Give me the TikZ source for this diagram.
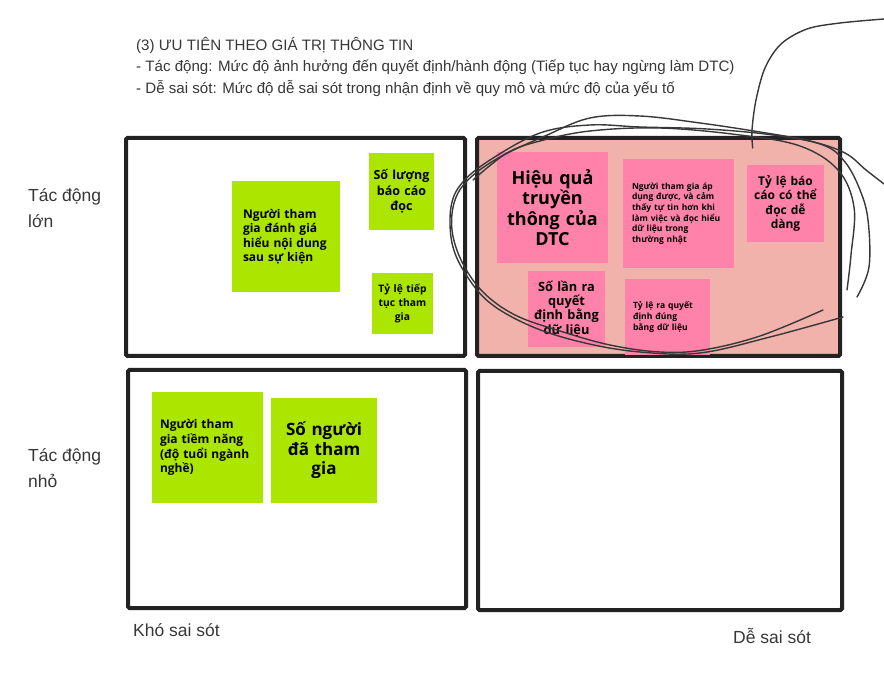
\documentclass[tikz,border=0pt]{standalone}
\usepackage{fontspec}
\setmainfont{Liberation Sans}
\newfontfamily\notefont{Open Sans}
\usetikzlibrary{positioning}
\definecolor{stickyg}{RGB}{172,230,0}
\definecolor{stickyp}{RGB}{255,130,170}
\definecolor{hotq}{RGB}{241,178,172}
\definecolor{frame}{RGB}{34,34,34}
\definecolor{ink}{RGB}{55,55,55}
\definecolor{pen}{RGB}{56,56,56}

\begin{document}
\begin{tikzpicture}[x=1pt, y=-1pt,
  quad/.style={draw=frame, line width=4pt, rounded corners=1.5pt, anchor=north west, outer sep=0pt, inner sep=0pt},
  note/.style={anchor=north west, outer sep=0pt, inner ysep=0pt},
  gnote/.style={note, fill=stickyg},
  pnote/.style={note, fill=stickyp},
  axis/.style={font=\fontsize{17.5}{26}\selectfont, text=ink, align=left, inner sep=0pt},
  scribble/.style={draw=pen, line width=1.4pt, line cap=round, line join=round}]
  \useasboundingbox[fill=white] (0,0) rectangle (884,676);
  % heading
  \node[anchor=north west, inner sep=0pt, align=left, text=ink, font=\fontsize{15.1}{21.5}\selectfont] (head) at (136,37)
    {(3) ƯU TIÊN THEO GIÁ TRỊ THÔNG TIN\\
     - Tác động: Mức độ ảnh hưởng đến quyết định/hành động (Tiếp tục hay ngừng làm DTC)\\
     - Dễ sai sót: Mức độ dễ sai sót trong nhận định về quy mô và mức độ của yếu tố};
  % quadrants
  \node[quad, minimum width=339pt, minimum height=218pt] (tl) at (126,138) {};
  \node[quad, fill=hotq, minimum width=363pt, minimum height=218pt] (tr) at (477,138) {};
  \node[quad, minimum width=338pt, minimum height=238pt] (bl) at (128,370) {};
  \node[quad, minimum width=364pt, minimum height=239pt] (br) at (478,371) {};
  % axis labels
  \node[axis, anchor=north west] (big) at (28,188) {Tác động\\lớn};
  \node[axis, anchor=north west] (small) at (28,448) {Tác động\\nhỏ};
  \node[axis, anchor=north west] (hard) at (133,623) {Khó sai sót};
  \node[axis, anchor=north west] (easy) at (733,628) {Dễ sai sót};
  % green notes
  \node[gnote, minimum width=108pt, minimum height=111pt, text width=86pt, inner xsep=11pt, align=left,
        font=\notefont\bfseries\fontsize{12}{14.5}\selectfont] (judge) at (232,181)
    {Người tham\\gia đánh giá\\hiểu nội dung\\sau sự kiện};
  \node[gnote, minimum width=65pt, minimum height=77pt, text width=61pt, inner xsep=2pt, align=center,
        font=\notefont\bfseries\fontsize{12.5}{15.5}\selectfont] (reads) at (369,153)
    {Số lượng\\báo cáo\\đọc};
  \node[gnote, minimum width=61pt, minimum height=61pt, text width=57pt, inner xsep=2pt, align=center,
        font=\notefont\bfseries\fontsize{10.3}{14}\selectfont] (stay) at (372,273)
    {Tỷ lệ tiếp\\tục tham\\gia};
  \node[gnote, minimum width=111pt, minimum height=111pt, text width=95pt, inner xsep=8pt, align=left,
        font=\notefont\bfseries\fontsize{12}{14.7}\selectfont] (leads) at (152,392)
    {Người tham\\gia tiềm năng\\(độ tuổi ngành\\nghề)};
  \node[gnote, minimum width=106pt, minimum height=105pt, text width=100pt, inner xsep=3pt, align=center,
        font=\notefont\bfseries\fontsize{17}{19.5}\selectfont] (joined) at (271,398)
    {Số người\\đã tham\\gia};
  % pink notes
  \node[pnote, minimum width=111pt, minimum height=111pt, text width=105pt, inner xsep=3pt, align=center,
        font=\notefont\bfseries\fontsize{18}{20.5}\selectfont] (effect) at (497,152)
    {Hiệu quả\\truyền\\thông của\\DTC};
  \node[pnote, minimum width=109pt, minimum height=109pt, text width=93pt, inner xsep=9pt, align=left,
        font=\notefont\bfseries\fontsize{8.5}{10.6}\selectfont] (apply) at (623,159)
    {Người tham gia áp\\dụng được, và cảm\\thấy tự tin hơn khi\\làm việc và đọc hiểu\\dữ liệu trong\\thường nhật};
  \node[pnote, minimum width=77pt, minimum height=77pt, text width=73pt, inner xsep=2pt, align=center,
        font=\notefont\bfseries\fontsize{12}{14.5}\selectfont] (legible) at (747,165)
    {Tỷ lệ báo\\cáo có thể\\đọc dễ\\dàng};
  \node[pnote, minimum width=77pt, minimum height=76pt, text width=73pt, inner xsep=2pt, align=center,
        font=\notefont\bfseries\fontsize{12.8}{14.2}\selectfont] (times) at (528,271)
    {Số lần ra\\quyết\\định bằng\\dữ liệu};
  \node[pnote, minimum width=77pt, minimum height=76pt, text width=69pt, inner xsep=8pt, align=left,
        font=\notefont\bfseries\fontsize{8.6}{10.6}\selectfont] (right) at (625,279)
    {Tỷ lệ ra quyết\\định đúng\\bằng dữ liệu};
  % pen marks over the top-right quadrant
  \draw[scribble] plot[smooth, tension=0.55] coordinates {(752.7,148) (752,130) (756,100) (765,68) (781,44) (807,29) (840,23) (884,19)};
  \draw[scribble] plot[smooth, tension=0.6] coordinates {(823,310) (760,336) (703,350) (660,352) (610,345) (560,331) (515,315) (483,292) (462,262) (452,230) (455,200) (470,178) (500,157) (545,136) (590,118) (640,116) (700,123) (760,132) (810,141) (845,153) (866,170) (884,184)};
  \draw[scribble] plot[smooth, tension=0.6] coordinates {(843,317) (770,337) (700,353) (640,352) (585,343) (533,327) (490,303) (465,273) (452,243) (451,207) (462,183) (490,160) (540,133) (590,125) (640,127) (707,129) (773,135) (823,145) (845,162) (860,190) (868,220) (869,267) (857,297)};
  \draw[scribble] plot[smooth, tension=0.6] coordinates {(473,180) (507,153) (540,141) (590,131) (660,128) (740,135) (800,146) (838,170) (854,207) (851,255) (847,290)};
\end{tikzpicture}
\end{document}
